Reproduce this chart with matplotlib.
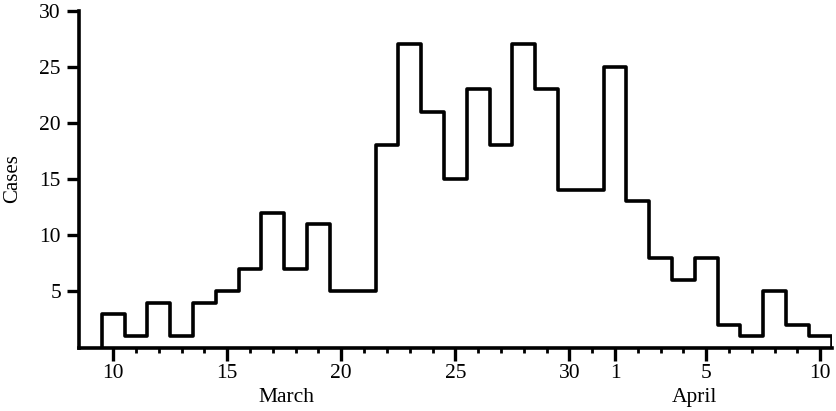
import numpy as np
import matplotlib
matplotlib.use('Agg')
import matplotlib.pyplot as plt
from matplotlib.transforms import blended_transform_factory

# ---- data ----
months = ['March'] * 22 + ['April'] * 10
day_of_month = list(range(10, 32)) + list(range(1, 11))
cases = [3, 1, 4, 1, 4, 5, 7, 12, 7, 11, 5, 5, 18, 27, 21, 15, 23, 18,
         27, 23, 14, 14, 25, 13, 8, 6, 8, 2, 1, 5, 2, 1]
major_ticks = [('March', 10), ('March', 15), ('March', 20), ('March', 25),
               ('March', 30), ('April', 1), ('April', 5), ('April', 10)]
y_ticks = [5, 10, 15, 20, 25, 30]
y_label = 'Cases'
month_names = ['March', 'April']

# ---- layout ----
plt.rcParams['font.family'] = ['Liberation Serif', 'DejaVu Serif']
FS = 15.5
keys = list(zip(months, day_of_month))
pos = np.arange(len(cases))
edges = np.arange(len(cases) + 1) - 0.5

fig = plt.figure(figsize=(8.37, 4.11), dpi=100)
W, H = 837, 411
AX_W = 831.7 - 79
ax = fig.add_axes([79 / W, 1 - 347.5 / H, AX_W / W, 337 / H])

ax.stairs(cases, edges, baseline=0, fill=False, color='black',
          linewidth=2.6, joinstyle='round')

ax.set_xlim(-1.5, len(cases) - 0.5)
ax.set_ylim(0, 30)

for s in ['top', 'right']:
    ax.spines[s].set_visible(False)
for s in ['left', 'bottom']:
    ax.spines[s].set_linewidth(2.6)
    ax.spines[s].set_color('black')

major_pos = [keys.index(k) for k in major_ticks]
ax.set_xticks(major_pos)
ax.set_xticklabels([str(d) for _, d in major_ticks], fontsize=FS)
ax.set_xticks([p for p in pos if p not in major_pos], minor=True)
ax.tick_params(axis='x', which='major', direction='out', length=9.5,
               width=2.4, pad=2.5, color='black')
ax.tick_params(axis='x', which='minor', direction='out', length=3.5,
               width=2.0, color='black')

ax.set_yticks(y_ticks)
ax.set_yticklabels([str(v) for v in y_ticks], fontsize=FS)
ax.tick_params(axis='y', which='major', direction='out', length=9,
               width=2.4, pad=4, color='black')

ax.set_ylabel(y_label, fontsize=FS - 0.5)
ax.yaxis.set_label_coords((22 - 79) / AX_W, 0.5)

# month labels under the axis
trans = blended_transform_factory(ax.transData, ax.transAxes)
month_centers = {'March': keys.index(('March', 17)) + 0.6,
                 'April': keys.index(('April', 4)) + 0.5}
for m in month_names:
    ax.text(month_centers[m], -0.147, m, transform=trans, ha='center',
            va='center', fontsize=FS)

fig.savefig('out.png', dpi=100, facecolor='white')
